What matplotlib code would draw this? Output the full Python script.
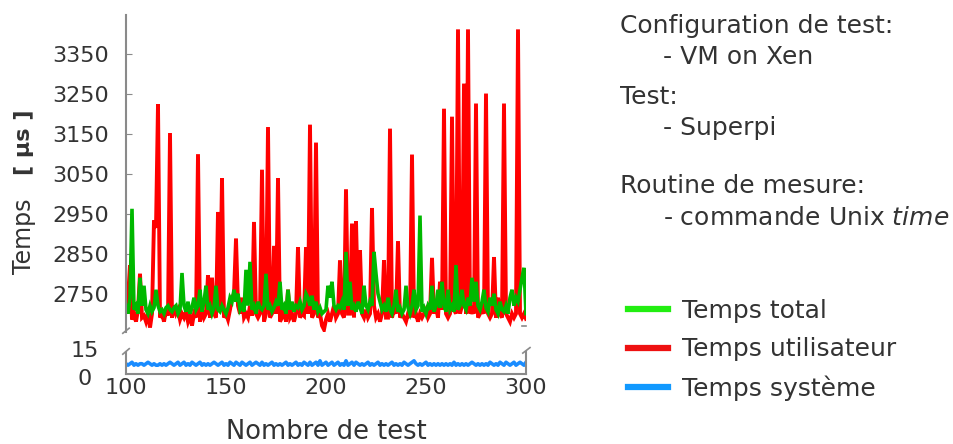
import numpy as np
import matplotlib
matplotlib.use("Agg")
import matplotlib.pyplot as plt
import matplotlib.transforms as mtransforms
from matplotlib.lines import Line2D

# ---------------- data ----------------
temps_utilisateur = [
    2715, 2740, 2821, 2685, 2700, 2680, 2710, 2800, 2690, 2695,
    2680, 2700, 2665, 2700, 2934, 2915, 3225, 2690, 2700, 2680,
    2710, 2695, 3153, 2690, 2720, 2700, 2710, 2685, 2700, 2690,
    2705, 2680, 2695, 2670, 2700, 2690, 3100, 2680, 2710, 2690,
    2700, 2796, 2690, 2790, 2700, 2690, 2955, 2710, 3040, 2690,
    2700, 2685, 2710, 2740, 2750, 2888, 2720, 2700, 2740, 2690,
    2700, 2690, 2720, 2695, 2930, 2700, 2690, 2700, 3061, 2680,
    2700, 3168, 2690, 2700, 2870, 2700, 3039, 2680, 2690, 2710,
    2680, 2760, 2690, 2700, 2680, 2700, 2867, 2690, 2700, 2695,
    2867, 2700, 3174, 2690, 2700, 3129, 2690, 2700, 2670, 2660,
    2685, 2700, 2680, 2700, 2720, 2690, 2700, 2834, 2700, 2690,
    3012, 2700, 2700, 2926, 2690, 2932, 2720, 2859, 2700, 2690,
    2710, 2690, 2700, 2965, 2720, 2690, 2700, 2680, 2700, 2834,
    2690, 2690, 3164, 2690, 2710, 2700, 2882, 2690, 2700, 2690,
    2680, 2700, 2690, 3099, 2690, 2700, 2680, 2700, 2690, 2700,
    2710, 2690, 2700, 2840, 2700, 2720, 2690, 2780, 2710, 3214,
    2700, 2690, 2700, 3194, 2710, 2700, 3413, 2700, 2720, 3277,
    2700, 3413, 2700, 2710, 2700, 3227, 2690, 2700, 2710, 2700,
    3252, 2700, 2690, 2700, 2842, 2690, 2740, 2700, 2690, 3227,
    2700, 2690, 2680, 2700, 2690, 2700, 3413, 2700, 2690, 2700,
    2687,
]

temps_total = [
    2720, 2700, 2740, 2963, 2710, 2720, 2700, 2790, 2720, 2770,
    2710, 2700, 2720, 2705, 2715, 2760, 2720, 2705, 2710, 2700,
    2715, 2720, 2710, 2705, 2715, 2720, 2700, 2710, 2802, 2720,
    2705, 2730, 2700, 2715, 2740, 2710, 2720, 2760, 2705, 2730,
    2770, 2710, 2720, 2700, 2715, 2770, 2710, 2705, 2720, 2710,
    2700, 2715, 2740, 2730, 2760, 2730, 2750, 2710, 2720, 2705,
    2810, 2720, 2830, 2710, 2720, 2700, 2730, 2715, 2710, 2720,
    2800, 2710, 2720, 2705, 2715, 2730, 2720, 2780, 2710, 2720,
    2700, 2760, 2710, 2730, 2705, 2720, 2715, 2730, 2710, 2720,
    2750, 2740, 2720, 2745, 2710, 2730, 2705, 2715, 2700, 2705,
    2710, 2770, 2740, 2780, 2720, 2710, 2720, 2715, 2730, 2710,
    2855, 2720, 2780, 2710, 2720, 2705, 2730, 2715, 2700, 2770,
    2720, 2710, 2730, 2720, 2855, 2800, 2750, 2730, 2710, 2720,
    2705, 2740, 2710, 2700, 2720, 2760, 2705, 2715, 2700, 2710,
    2770, 2715, 2700, 2720, 2760, 2710, 2720, 2946, 2705, 2715,
    2700, 2720, 2710, 2770, 2705, 2720, 2760, 2715, 2780, 2720,
    2705, 2760, 2710, 2720, 2705, 2822, 2710, 2720, 2760, 2720,
    2710, 2740, 2720, 2790, 2730, 2780, 2720, 2710, 2730, 2760,
    2715, 2705, 2740, 2720, 2750, 2710, 2700, 2730, 2710, 2705,
    2720, 2700, 2740, 2760, 2720, 2740, 2730, 2760, 2790, 2815,
    2700,
]

temps_systeme = [
    7, 6, 7, 8, 6, 7, 6, 7, 7, 6,
    7, 8, 7, 6, 7, 6, 6, 7, 6, 7,
    6, 7, 8, 7, 6, 7, 8, 6, 7, 8,
    6, 7, 6, 8, 7, 6, 7, 8, 6, 7,
    6, 7, 6, 7, 8, 7, 6, 7, 8, 6,
    7, 6, 8, 7, 6, 8, 7, 6, 8, 7,
    6, 7, 8, 6, 7, 8, 7, 6, 8, 6,
    7, 6, 7, 8, 6, 7, 6, 7, 6, 7,
    8, 6, 7, 6, 7, 8, 6, 7, 6, 8,
    7, 6, 8, 6, 7, 8, 6, 9, 6, 7,
    8, 6, 7, 8, 6, 7, 8, 6, 7, 6,
    9, 6, 7, 8, 6, 8, 7, 6, 7, 6,
    7, 8, 6, 7, 6, 7, 8, 6, 7, 6,
    7, 6, 7, 8, 6, 7, 6, 7, 6, 8,
    7, 6, 7, 8, 9, 7, 6, 7, 6, 7,
    8, 6, 7, 6, 7, 6, 7, 6, 7, 6,
    7, 6, 7, 6, 8, 6, 7, 6, 7, 6,
    7, 6, 7, 8, 7, 6, 7, 6, 7, 6,
    7, 6, 8, 7, 6, 7, 6, 8, 7, 6,
    8, 7, 6, 7, 8, 6, 7, 8, 7, 6,
    8,
]

x_start = 100
upper_ticks = [2750, 2850, 2950, 3050, 3150, 3250, 3350]
lower_ticks = [0, 15]
x_ticks = [100, 150, 200, 250, 300]

# ---------------- styles ----------------
W, H = 954, 444
TXT = "#333333"
SPINE = "#8a8a8a"
RED = "#ff0000"
GREEN = "#00b800"
BLUE = "#1a8cff"
FS = 16      # tick labels
FS_T = 18    # annotation / legend

plt.rcParams["font.family"] = ["DejaVu Sans"]

fig = plt.figure(figsize=(W / 100, H / 100), dpi=100)


def fx(px):
    return px / W


def fy(py):
    return 1 - py / H


L, R = 126, 526
U_TOP, U_BOT = 15, 332
D_TOP, D_BOT = 352, 374

ax1 = fig.add_axes([fx(L), fy(U_BOT), (R - L) / W, (U_BOT - U_TOP) / H])
ax2 = fig.add_axes([fx(L), fy(D_BOT), (R - L) / W, (D_BOT - D_TOP) / H])

xr = np.arange(x_start, x_start + len(temps_utilisateur))
xt = np.arange(x_start, x_start + len(temps_total))
xs = np.arange(x_start, x_start + len(temps_systeme))

ax1.plot(xr, temps_utilisateur, color=RED, lw=2.8, solid_joinstyle="miter")
ax1.plot(xt, temps_total, color=GREEN, lw=2.6, solid_joinstyle="miter")
ax2.plot(xs, temps_systeme, color=BLUE, lw=2.6)

ax1.set_xlim(100, 300)
ax1.set_ylim(2654, 3449)
ax2.set_xlim(100, 300)
ax2.set_ylim(0, 15)

for s in ["top", "right", "bottom"]:
    ax1.spines[s].set_visible(False)
ax1.spines["left"].set_color(SPINE)
ax1.spines["left"].set_linewidth(1.5)
ax1.set_xticks([])
ax1.set_yticks(upper_ticks)
ax1.tick_params(axis="y", direction="in", length=4, color=SPINE,
                labelsize=FS, labelcolor=TXT, pad=12)

ax2.spines["top"].set_visible(False)
for s in ["left", "bottom", "right"]:
    ax2.spines[s].set_color(SPINE)
    ax2.spines[s].set_linewidth(1.5)
ax2.set_yticks(lower_ticks)
ax2.tick_params(axis="y", length=0, labelsize=FS, labelcolor=TXT, pad=30)
fig.canvas.draw()
for lab, dy in zip(ax2.get_yticklabels(), [-3, 3]):
    lab.set_horizontalalignment("center")
    lab.set_transform(lab.get_transform() +
                      mtransforms.ScaledTranslation(0, dy / 100, fig.dpi_scale_trans))
ax2.set_xticks(x_ticks)
ax2.tick_params(axis="x", length=0, labelsize=FS, labelcolor=TXT, pad=3)

# break marks
kw = dict(color=SPINE, lw=1.2, clip_on=False)
ax1.plot([-0.008, 0.008], [-0.004, 0.012], transform=ax1.transAxes, **kw)
ax1.plot([0.99, 1.0], [0.02, 0.02], transform=ax1.transAxes, **kw)
ax2.plot([-0.008, 0.008], [0.9, 1.15], transform=ax2.transAxes, **kw)
ax2.plot([0.992, 1.01], [0.95, 1.2], transform=ax2.transAxes, **kw)

# axis labels
fig.text(fx(326), fy(432), "Nombre de test", fontsize=18.5, color=TXT,
         ha="center", va="center")
fig.text(fx(24), fy(236), "Temps", fontsize=17, color=TXT, rotation=90,
         ha="center", va="center")
fig.text(fx(24), fy(142), "[ µs ]", fontsize=16, color=TXT, rotation=90,
         ha="center", va="center", fontweight="bold")

# annotation text
notes = [
    (620, 26, "Configuration de test:"),
    (663, 57, "- VM on Xen"),
    (620, 97, "Test:"),
    (663, 128, "- Superpi"),
    (620, 186, "Routine de mesure:"),
    (663, 218, r"- commande Unix $\mathit{time}$"),
]
for px, py, t in notes:
    fig.text(fx(px), fy(py), t, fontsize=FS_T, color=TXT, ha="left", va="center")

# legend
handles = [
    Line2D([], [], color="#22ee11", lw=4.5),
    Line2D([], [], color="#ee1111", lw=4.5),
    Line2D([], [], color="#1199ff", lw=4.5),
]
labels = ["Temps total", "Temps utilisateur", "Temps système"]
leg = fig.legend(handles, labels, loc="upper left",
                 bbox_to_anchor=(fx(628), fy(299)), frameon=False,
                 fontsize=FS_T, handlelength=1.6, handletextpad=0.55,
                 labelspacing=0.57, borderaxespad=0, borderpad=0)
for t in leg.get_texts():
    t.set_color(TXT)

fig.savefig("out.png", dpi=100, facecolor="white")
